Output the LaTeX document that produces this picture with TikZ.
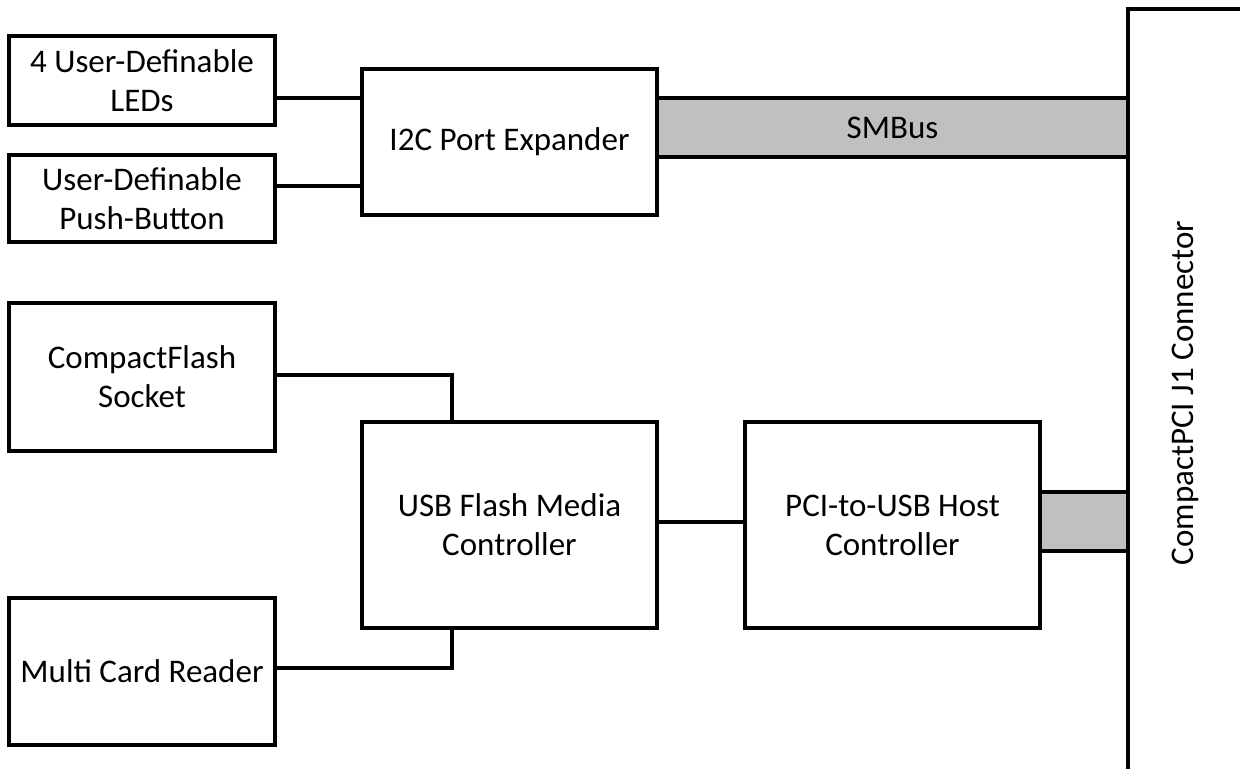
\documentclass[tikz,border=0pt]{standalone}
\usepackage{fontspec}
\setmainfont{Carlito}
\usepackage{tikz}
\usetikzlibrary{positioning}
\definecolor{busgray}{RGB}{192,192,192}

\tikzset{
  blk/.style={draw, black, line width=1.6pt, align=center, inner sep=0pt,
    font=\fontsize{16.5}{19.5}\selectfont},
  bus/.style={blk, fill=busgray},
  wire/.style={black, line width=1.6pt}
}

\begin{document}
\begin{tikzpicture}[x=0.5pt, y=-0.5pt]
                      \useasboundingbox (0,0) rectangle (1240,769);

                      \node[blk, minimum width=133pt, minimum height=44.5pt] (leds) at (142,80.5) {4 User-Definable\\LEDs};
                      \node[blk, minimum width=133pt, minimum height=43.5pt] (button) at (142,198.5) {User-Definable\\Push-Button};
                      \node[blk, minimum width=133pt, minimum height=74pt] (cf) at (142,377) {CompactFlash\\Socket};
                      \node[blk, minimum width=133pt, minimum height=73.5pt] (mcr) at (142,671.5) {Multi Card Reader};

                      \node[blk, minimum width=147.5pt, minimum height=73pt] (i2c) at (509.5,142) {I2C Port Expander};
                      \node[blk, minimum width=147.5pt, minimum height=103pt] (usb) at (509.5,525) {USB Flash Media\\Controller};
                      \node[blk, minimum width=147.5pt, minimum height=103pt] (pci) at (892.5,525) {PCI-to-USB Host\\Controller};

                      \node[bus, minimum width=235.5pt, minimum height=29.5pt] (smbus) at (892.5,127.5) {SMBus};
                      \node[bus, minimum width=44pt, minimum height=29.5pt] (pcibus) at (1084,521.5) {};

                      \draw[wire] (1240,9) -- (1128,9) -- (1128,769);
                      \node[font=\fontsize{16.5}{19.5}\selectfont, rotate=90] (conn) at (1185,393) {CompactPCI J1 Connector};

                      \draw[wire] (leds.east |- 0,98) -- (i2c.west |- 0,98);
                      \draw[wire] (button.east |- 0,186) -- (i2c.west |- 0,186);
                      \draw[wire] (cf.east |- 0,375) -| (usb.north -| 452,0);
                      \draw[wire] (mcr.east |- 0,668) -| (usb.south -| 452,0);
                      \draw[wire] (usb.east |- 0,522) -- (pci.west |- 0,522);

                  \end{tikzpicture}
\end{document}
